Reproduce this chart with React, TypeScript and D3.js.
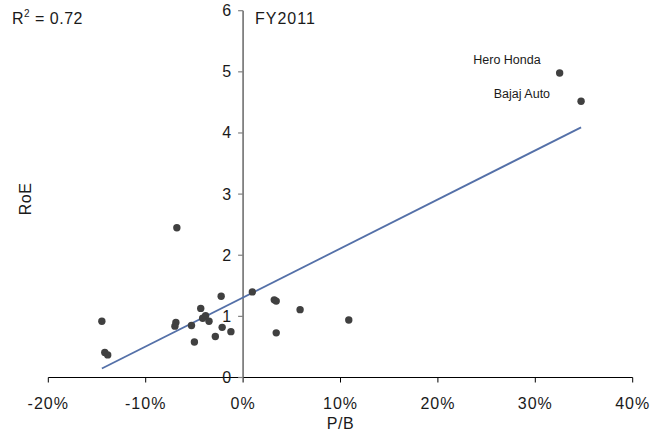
import React, { useEffect, useRef } from "react"
import * as d3 from "d3"

// P/B (%) vs RoE, FY2011
const pbValues = [
  -14.5, -14.2, -13.9, -6.9, -7.0, -5.3, -5.0, -4.35, -4.15, -3.85, -3.5, -2.85,
  -2.25, -2.15, -1.25, 0.95, 3.2, 3.4, 3.4, 5.85, 10.85, -6.8, 32.5, 34.7,
]
const roeValues = [
  0.92, 0.41, 0.37, 0.9, 0.84, 0.85, 0.58, 1.13, 0.97, 1.01, 0.92, 0.67,
  1.33, 0.82, 0.75, 1.4, 1.27, 1.25, 0.73, 1.11, 0.94, 2.45, 4.98, 4.52,
]
const pointNames = [
  "", "", "", "", "", "", "", "", "", "", "", "",
  "", "", "", "", "", "", "", "", "", "", "Hero Honda", "Bajaj Auto",
]

const xTicks = [-20, -10, 0, 10, 20, 30, 40]
const yTicks = [0, 1, 2, 3, 4, 5, 6]

// linear trend
const trendIntercept = 1.309
const trendSlope = 0.0802
const rSquared = "0.72"
const yearLabel = "FY2011"

const W = 665
const H = 434
const FONT = "'Liberation Sans', Arial, sans-serif"

export default function App() {
  const ref = useRef<SVGSVGElement>(null)

  useEffect(() => {
    const svg = d3.select(ref.current)
    svg.selectAll("*").remove()

    const x = d3.scaleLinear().domain([-20, 40]).range([48.3, 632.7])
    const y = d3.scaleLinear().domain([0, 6]).range([377.5, 10.7])

    // x axis (black)
    svg.append("line")
      .attr("x1", x(-20)).attr("x2", x(40))
      .attr("y1", y(0)).attr("y2", y(0))
      .attr("stroke", "#000").attr("stroke-width", 1.2)
    svg.append("g")
      .selectAll("line")
      .data(xTicks)
      .enter()
      .append("line")
      .attr("x1", d => x(d)).attr("x2", d => x(d))
      .attr("y1", y(0)).attr("y2", y(0) + 5)
      .attr("stroke", "#000").attr("stroke-width", 1)
    svg.append("g")
      .selectAll("text")
      .data(xTicks)
      .enter()
      .append("text")
      .attr("x", d => x(d))
      .attr("y", 409)
      .attr("text-anchor", "middle")
      .attr("font-family", FONT)
      .attr("font-size", 16)
      .attr("letter-spacing", 1)
      .attr("fill", "#1a1a1a")
      .text(d => d + "%")

    // y axis (grey) at x = 0
    svg.append("line")
      .attr("x1", x(0)).attr("x2", x(0))
      .attr("y1", y(0)).attr("y2", y(6))
      .attr("stroke", "#808080").attr("stroke-width", 1.8)
    svg.append("g")
      .selectAll("line")
      .data(yTicks)
      .enter()
      .append("line")
      .attr("x1", x(0) - 5).attr("x2", x(0))
      .attr("y1", d => y(d)).attr("y2", d => y(d))
      .attr("stroke", "#808080").attr("stroke-width", 1.2)
    svg.append("g")
      .selectAll("text")
      .data(yTicks)
      .enter()
      .append("text")
      .attr("x", x(0) - 12)
      .attr("y", d => y(d) + 5.5)
      .attr("text-anchor", "end")
      .attr("font-family", FONT)
      .attr("font-size", 16)
      .attr("fill", "#1a1a1a")
      .text(d => d)

    // trend line
    const xMin = d3.min(pbValues) as number
    const xMax = d3.max(pbValues) as number
    svg.append("line")
      .attr("x1", x(xMin)).attr("y1", y(trendIntercept + trendSlope * xMin))
      .attr("x2", x(xMax)).attr("y2", y(trendIntercept + trendSlope * xMax))
      .attr("stroke", "#5470a8").attr("stroke-width", 1.8)

    // points
    const pts = pbValues.map((v, i) => ({ pb: v, roe: roeValues[i], name: pointNames[i] }))
    svg.append("g")
      .selectAll("circle")
      .data(pts)
      .enter()
      .append("circle")
      .attr("cx", d => x(d.pb))
      .attr("cy", d => y(d.roe))
      .attr("r", 3.7)
      .attr("fill", "#404040")

    // point labels
    const labelOffset: Record<string, [number, number]> = {
      "Hero Honda": [-19, -9],
      "Bajaj Auto": [-31, -3],
    }
    svg.append("g")
      .selectAll("text")
      .data(pts.filter(d => d.name))
      .enter()
      .append("text")
      .attr("x", d => x(d.pb) + labelOffset[d.name][0])
      .attr("y", d => y(d.roe) + labelOffset[d.name][1])
      .attr("text-anchor", "end")
      .attr("font-family", FONT)
      .attr("font-size", 12.5)
      .attr("fill", "#1a1a1a")
      .text(d => d.name)

    // axis titles
    svg.append("text")
      .attr("x", (x(-20) + x(40)) / 2)
      .attr("y", 429)
      .attr("text-anchor", "middle")
      .attr("font-family", FONT)
      .attr("font-size", 16)
      .attr("letter-spacing", 0.5)
      .attr("fill", "#1a1a1a")
      .text("P/B")
    svg.append("text")
      .attr("transform", "translate(31,199) rotate(-90)")
      .attr("text-anchor", "middle")
      .attr("font-family", FONT)
      .attr("font-size", 16)
      .attr("letter-spacing", 0.5)
      .attr("fill", "#1a1a1a")
      .text("RoE")

    // R² and year
    const r2 = svg.append("text")
      .attr("x", 12)
      .attr("y", 24)
      .attr("font-family", FONT)
      .attr("font-size", 16)
      .attr("letter-spacing", 0.5)
      .attr("fill", "#1a1a1a")
    r2.append("tspan").text("R")
    r2.append("tspan").attr("dy", -7).attr("font-size", 10).text("2")
    r2.append("tspan").attr("dy", 7).text(" = " + rSquared)

    svg.append("text")
      .attr("x", 255)
      .attr("y", 24)
      .attr("font-family", FONT)
      .attr("font-size", 16)
      .attr("letter-spacing", 1)
      .attr("fill", "#1a1a1a")
      .text(yearLabel)
  }, [])

  return (
    <svg
      ref={ref}
      width={W}
      height={H}
      style={{ position: "absolute", left: 0, top: 0, background: "#fff" }}
    />
  )
}
